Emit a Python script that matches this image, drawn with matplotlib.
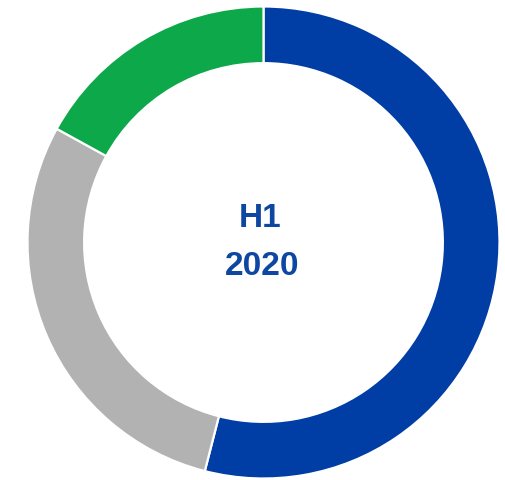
import matplotlib.pyplot as plt

# parts of the H1 2020 ring, clockwise from the top
labels = ['Blue', 'Grey', 'Green']
values = [54, 29, 17]
colors = ['#003DA5', '#B2B2B2', '#0CA84A']

fig = plt.figure(figsize=(5.05, 4.81), dpi=100)
ax = fig.add_axes([0, 0, 1, 1])

r_px = 236.0  # outer radius in pixels
cx, cy = 263.5, 237.5  # centre, pixels from left / bottom

ax.pie(values, colors=colors, startangle=90, counterclock=False, radius=1,
       wedgeprops=dict(width=0.24, edgecolor='white', linewidth=1.6))

ax.set_xlim(-cx / r_px, (505 - cx) / r_px)
ax.set_ylim(-cy / r_px, (481 - cy) / r_px)
ax.set_aspect('auto')
ax.axis('off')

ax.text(-0.013, 0.104, 'H1', ha='center', va='center', fontsize=24,
        fontweight='bold', color='#0D47A1', family='Liberation Sans')
ax.text(-0.004, -0.097, '2020', ha='center', va='center', fontsize=24,
        fontweight='bold', color='#0D47A1', family='Liberation Sans')

fig.savefig('out.png', dpi=100)
